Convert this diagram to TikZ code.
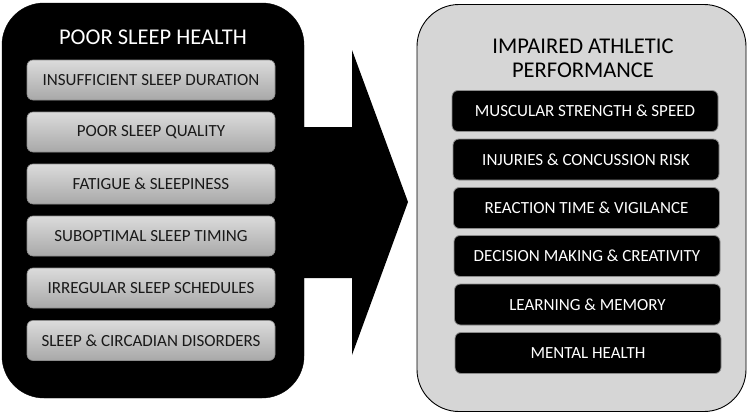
\documentclass[tikz,border=0pt]{standalone}
\usepackage{fontspec}
\setmainfont{Carlito}
\begin{document}
\begin{tikzpicture}[x=1pt,y=-1pt,
  leftpanel/.style={fill=black, draw=black, rounded corners=42pt, minimum width=302pt, minimum height=395pt, inner sep=0pt},
  rightpanel/.style={fill=black!16, draw=black, line width=0.9pt, rounded corners=42pt, minimum width=329pt, minimum height=407pt, inner sep=0pt},
  graybox/.style={top color=black!14, bottom color=black!34, draw=black!45, line width=0.6pt, rounded corners=6pt, minimum width=248pt, minimum height=40pt, inner sep=0pt, font=\fontsize{17}{20}\selectfont, text=black!90},
  darkbox/.style={fill=black, draw=black!45, line width=0.8pt, rounded corners=6pt, minimum width=266pt, minimum height=41pt, inner sep=0pt, font=\fontsize{17}{20}\selectfont, text=white},
  ttl/.style={font=\fontsize{22.5}{23.5}\selectfont, align=center, inner sep=0pt}]
\useasboundingbox (0,0) rectangle (750,415);
\node[leftpanel] (L) at (153,200.5) {};
\node[rightpanel] (R) at (581.5,208) {};
\fill[black] (296,127) -- (352,127) -- (352,50) -- (408,202) -- (352,355) -- (352,278) -- (296,278) -- cycle;
\node[ttl, text=white] (lt) at (153,37) {POOR SLEEP HEALTH};
\node[ttl, text=black] (rt) at (583,58.5) {IMPAIRED ATHLETIC\\PERFORMANCE};
\node[graybox] (l1) at (151,80) {INSUFFICIENT SLEEP DURATION};
\node[graybox] (l2) at (151,132) {POOR SLEEP QUALITY};
\node[graybox] (l3) at (151,184) {FATIGUE \& SLEEPINESS};
\node[graybox] (l4) at (151,236) {SUBOPTIMAL SLEEP TIMING};
\node[graybox] (l5) at (151,288) {IRREGULAR SLEEP SCHEDULES};
\node[graybox] (l6) at (151,340.5) {SLEEP \& CIRCADIAN DISORDERS};
\node[darkbox] (r1) at (585,111) {MUSCULAR STRENGTH \& SPEED};
\node[darkbox] (r2) at (586,159.5) {INJURIES \& CONCUSSION RISK};
\node[darkbox] (r3) at (586.5,208) {REACTION TIME \& VIGILANCE};
\node[darkbox] (r4) at (587,256) {DECISION MAKING \& CREATIVITY};
\node[darkbox] (r5) at (587.5,304.5) {LEARNING \& MEMORY};
\node[darkbox] (r6) at (588,353) {MENTAL HEALTH};
\end{tikzpicture}
\end{document}
